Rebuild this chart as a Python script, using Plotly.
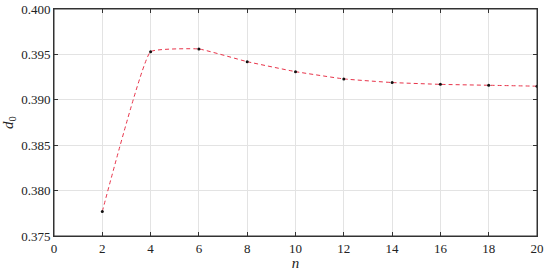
import plotly.graph_objects as go

n_vals = [2, 4, 6, 8, 10, 12, 14, 16, 18, 20]
d0_vals = [0.3777, 0.3953, 0.3956, 0.3942, 0.3931, 0.3923, 0.3919, 0.3917, 0.3916, 0.3915]

x_ticks = [0, 2, 4, 6, 8, 10, 12, 14, 16, 18, 20]
y_ticks = [0.375, 0.380, 0.385, 0.390, 0.395, 0.400]

FONT = dict(family="Liberation Serif, serif", size=13, color="#222")

fig = go.Figure()
fig.add_trace(go.Scatter(
    x=n_vals, y=d0_vals,
    mode="lines",
    line=dict(color="#e8344a", width=1, dash="4px,3px", shape="spline", smoothing=0.3),
    showlegend=False,
))
fig.add_trace(go.Scatter(
    x=n_vals, y=d0_vals,
    mode="markers",
    marker=dict(size=3, color="#111"),
    showlegend=False,
))

axis_common = dict(
    showgrid=True, gridcolor="#e3e3e3", gridwidth=1,
    showline=True, linecolor="#333", linewidth=1, mirror="ticks",
    ticks="inside", ticklen=4, tickcolor="#333",
    zeroline=False, tickfont=FONT, automargin=False,
    ticklabeloverflow="allow",
)

# box around the plot area (top/right edges)
fig.add_shape(
    type="rect", xref="paper", yref="paper", x0=0, y0=0, x1=1, y1=1,
    line=dict(color="#333", width=1), layer="above",
)

fig.update_layout(
    width=550, height=271,
    margin=dict(l=54, r=13, t=9, b=35),
    plot_bgcolor="white", paper_bgcolor="white",
    font=FONT,
    xaxis=dict(
        **axis_common, range=[0, 20], tickvals=x_ticks,
        title=dict(text="<i>n</i>", font=dict(size=15), standoff=0),
    ),
    yaxis=dict(
        **axis_common, range=[0.375, 0.400], tickvals=y_ticks,
        tickformat=".3f",
        title=dict(text="<i>d</i><sub>0</sub>", font=dict(size=15), standoff=6),
    ),
)

# drop the default 8px body margin so the figure sits at the page corner
fig.write_html(
    "out.html",
    config={"displayModeBar": False},
    post_script="document.body.style.margin='0';",
)
